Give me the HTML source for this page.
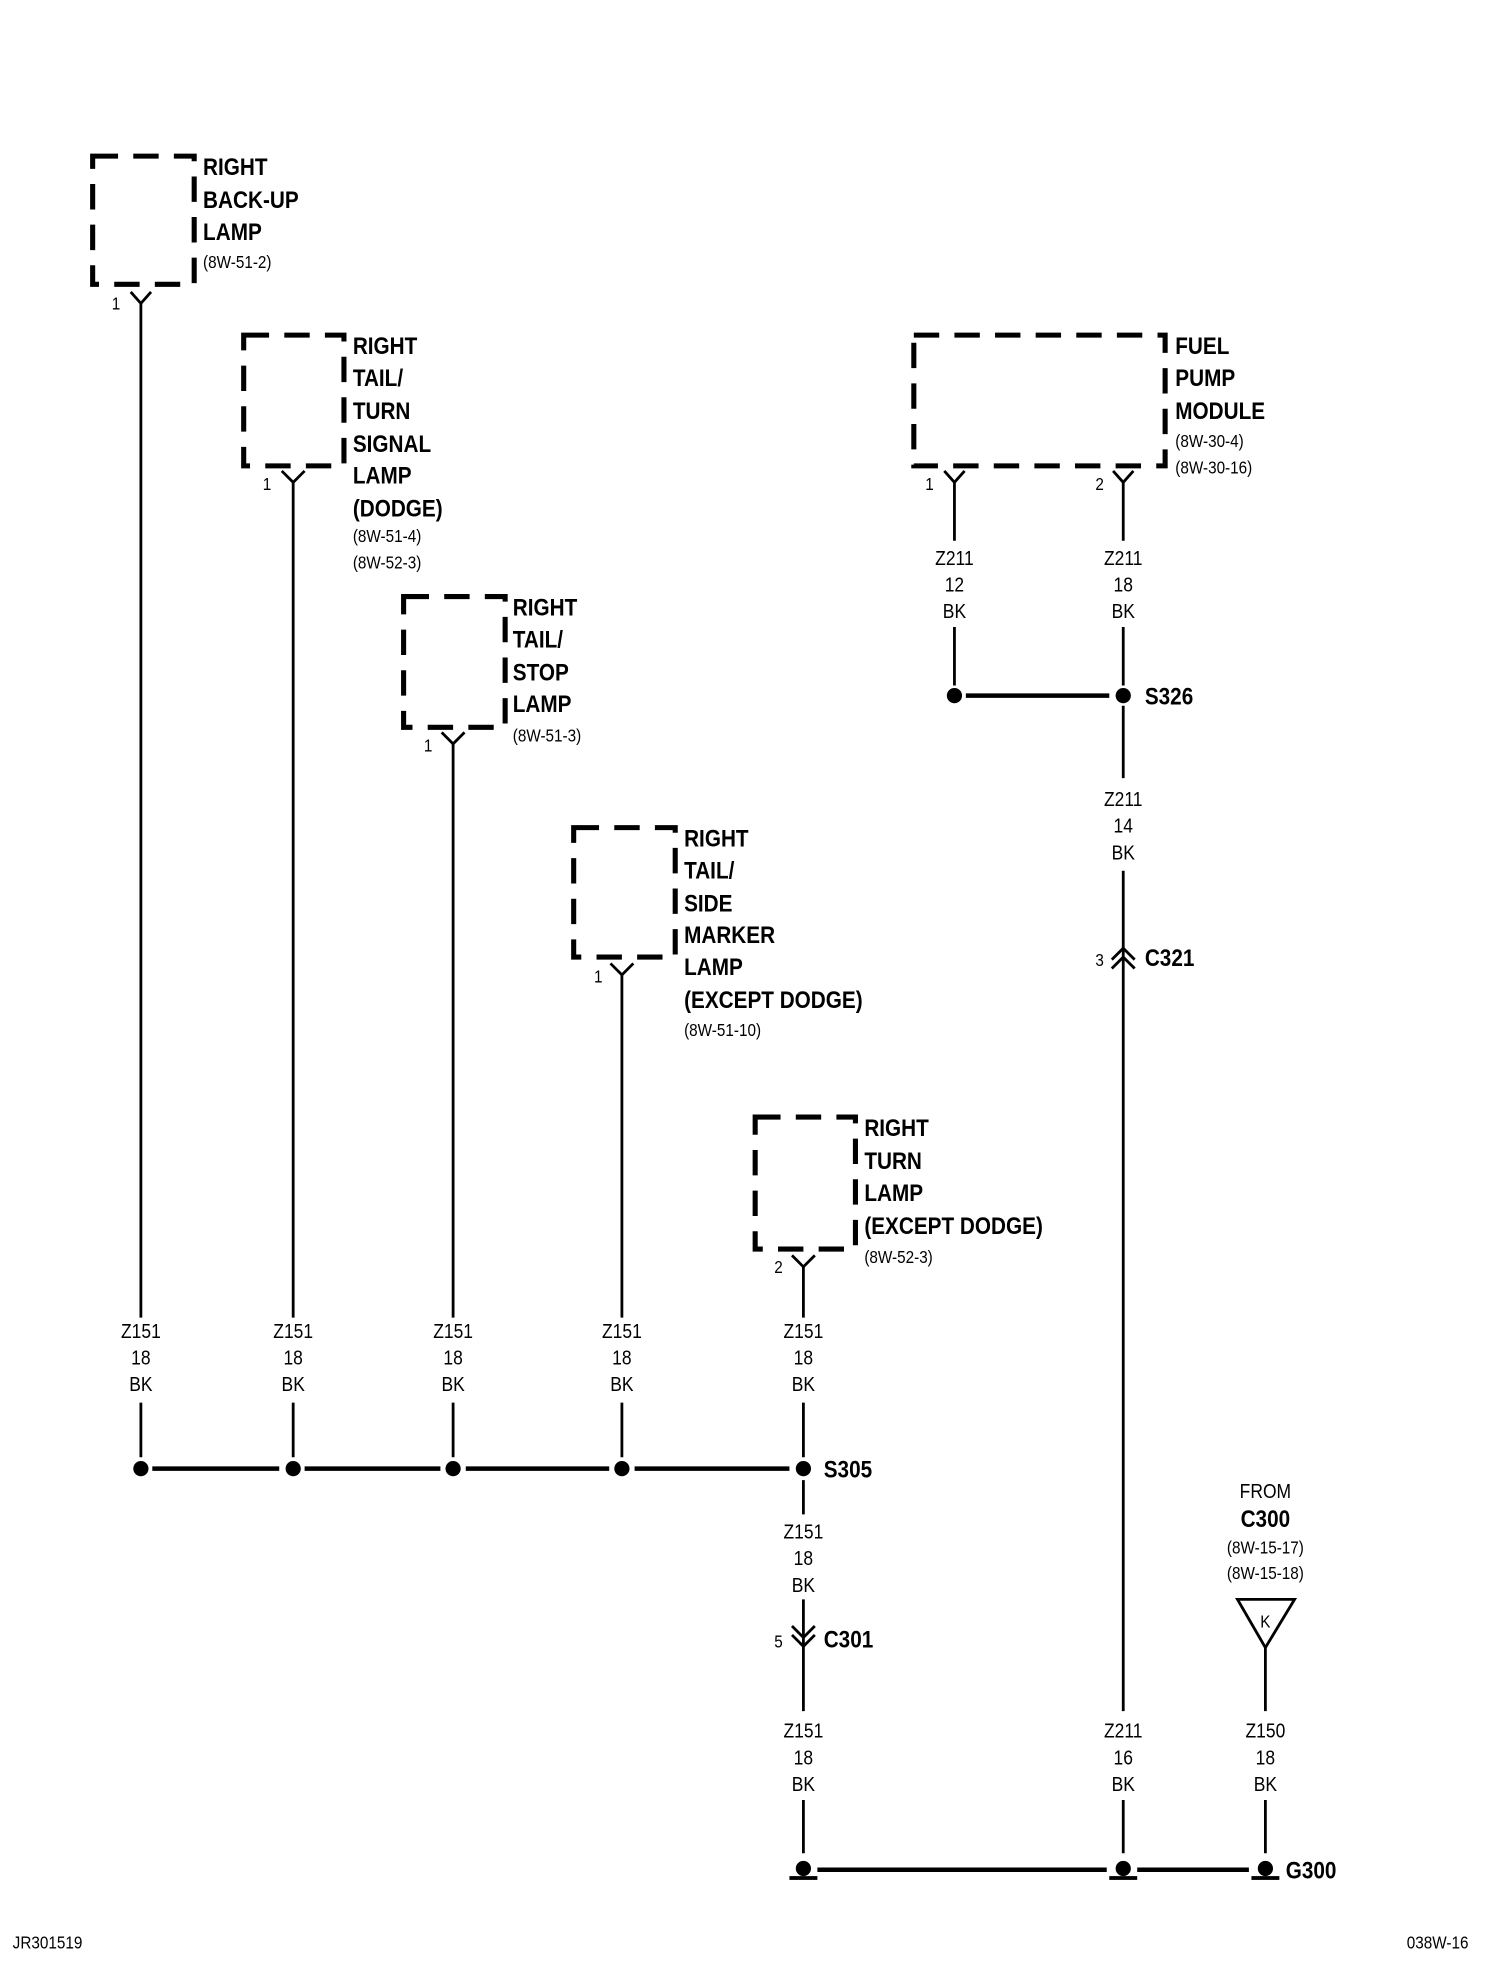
<!DOCTYPE html>
<html><head><meta charset="utf-8"><style>
html,body{margin:0;padding:0;background:#fff}
svg{display:block}
text{font-family:"Liberation Sans Narrow","Liberation Sans",Arial,sans-serif;fill:#000;transform-box:fill-box;transform-origin:left center;transform:scaleX(.86)}
.b{font-weight:bold;font-size:19px}
.s{font-size:14px}
.w text,.c{text-anchor:middle;transform-origin:center center}
.w{font-size:16px}
.e{transform-origin:right center}
</style></head><body>
<svg width="1504" height="1984" viewBox="0 2 1185 1563" preserveAspectRatio="none" xmlns="http://www.w3.org/2000/svg">
<g fill="none" stroke="#000" stroke-width="4" stroke-dasharray="20,12">
<rect x="73" y="125" width="80" height="101"/>
<rect x="192" y="266" width="79" height="103"/>
<rect x="318" y="472" width="80" height="103"/>
<rect x="452" y="654" width="80" height="102"/>
<rect x="595" y="882" width="79" height="104"/>
<rect x="720" y="266" width="198" height="103"/>
</g>
<g fill="none" stroke="#000" stroke-width="2.2">
<path d="M103,232 L111,241 L119,232 M222,373 L231,382 L240,373 M348,579 L357,588 L366,579 M481,761 L490,770 L499,761 M624,991 L633,1000 L642,991 M744,373 L752,382 L760,373 M877,373 L885,382 L893,373"/>
<path d="M111,241 V1040 M111,1107 V1150 M231,382 V1040 M231,1107 V1150 M357,588 V1040 M357,1107 V1150 M490,770 V1040 M490,1107 V1150 M633,1000 V1040 M633,1107 V1150"/>
<path d="M633,1168 V1195 M633,1262 V1300 M633,1300 V1350 M633,1420 V1462"/>
<path d="M752,382 V428 M752,496 V542 M885,382 V428 M885,496 V542 M885,558 V615 M885,688 V1350 M885,1420 V1462 M997,1300 V1350 M997,1420 V1462"/>
<path d="M624,1283 L633,1292 L642,1283 M624,1290 L633,1299 L642,1290"/>
<path d="M876,758 L885,749 L894,758 M876,765 L885,756 L894,765"/>
<path d="M975,1262 L1020,1262 L997,1300 Z"/>
</g>
<g stroke="#000" stroke-width="3.5">
<path d="M120,1159 H220 M240,1159 H347 M367,1159 H480 M500,1159 H622"/>
<path d="M761,550 H874"/>
<path d="M644,1475 H872 M896,1475 H984"/>
</g>
<g fill="#000">
<circle cx="111" cy="1159" r="6"/><circle cx="231" cy="1159" r="6"/><circle cx="357" cy="1159" r="6"/><circle cx="490" cy="1159" r="6"/><circle cx="633" cy="1159" r="6"/>
<circle cx="752" cy="550" r="6"/><circle cx="885" cy="550" r="6"/>
<circle cx="633" cy="1474" r="6"/><rect x="622" y="1480" width="22" height="3"/>
<circle cx="885" cy="1474" r="6"/><rect x="874" y="1480" width="22" height="3"/>
<circle cx="997" cy="1474" r="6"/><rect x="986" y="1480" width="22" height="3"/>
</g>
<text class="b" x="160" y="140">RIGHT</text><text class="b" x="160" y="166">BACK-UP</text><text class="b" x="160" y="191">LAMP</text><text class="s" x="160" y="213">(8W-51-2)</text>
<text class="b" x="278" y="281">RIGHT</text><text class="b" x="278" y="306">TAIL/</text><text class="b" x="278" y="332">TURN</text><text class="b" x="278" y="358">SIGNAL</text><text class="b" x="278" y="383">LAMP</text><text class="b" x="278" y="409">(DODGE)</text><text class="s" x="278" y="429">(8W-51-4)</text><text class="s" x="278" y="450">(8W-52-3)</text>
<text class="b" x="404" y="487">RIGHT</text><text class="b" x="404" y="512">TAIL/</text><text class="b" x="404" y="538">STOP</text><text class="b" x="404" y="563">LAMP</text><text class="s" x="404" y="586">(8W-51-3)</text>
<text class="b" x="539" y="669">RIGHT</text><text class="b" x="539" y="694">TAIL/</text><text class="b" x="539" y="720">SIDE</text><text class="b" x="539" y="745">MARKER</text><text class="b" x="539" y="770">LAMP</text><text class="b" x="539" y="796">(EXCEPT DODGE)</text><text class="s" x="539" y="818">(8W-51-10)</text>
<text class="b" x="681" y="897">RIGHT</text><text class="b" x="681" y="923">TURN</text><text class="b" x="681" y="948">LAMP</text><text class="b" x="681" y="974">(EXCEPT DODGE)</text><text class="s" x="681" y="997">(8W-52-3)</text>
<text class="b" x="926" y="281">FUEL</text><text class="b" x="926" y="306">PUMP</text><text class="b" x="926" y="332">MODULE</text><text class="s" x="926" y="354">(8W-30-4)</text><text class="s" x="926" y="375">(8W-30-16)</text>
<g class="s">
<text x="88" y="246">1</text><text x="207" y="388">1</text><text x="334" y="594">1</text><text x="468" y="776">1</text><text x="610" y="1005">2</text><text x="729" y="388">1</text><text x="863" y="388">2</text><text x="610" y="1300">5</text><text x="863" y="763">3</text>
</g>
<g class="w">
<text x="111" y="1056">Z151</text><text x="111" y="1077">18</text><text x="111" y="1098">BK</text>
<text x="231" y="1056">Z151</text><text x="231" y="1077">18</text><text x="231" y="1098">BK</text>
<text x="357" y="1056">Z151</text><text x="357" y="1077">18</text><text x="357" y="1098">BK</text>
<text x="490" y="1056">Z151</text><text x="490" y="1077">18</text><text x="490" y="1098">BK</text>
<text x="633" y="1056">Z151</text><text x="633" y="1077">18</text><text x="633" y="1098">BK</text>
<text x="633" y="1214">Z151</text><text x="633" y="1235">18</text><text x="633" y="1256">BK</text>
<text x="633" y="1371">Z151</text><text x="633" y="1392">18</text><text x="633" y="1413">BK</text>
<text x="752" y="447">Z211</text><text x="752" y="468">12</text><text x="752" y="489">BK</text>
<text x="885" y="447">Z211</text><text x="885" y="468">18</text><text x="885" y="489">BK</text>
<text x="885" y="637">Z211</text><text x="885" y="658">14</text><text x="885" y="679">BK</text>
<text x="885" y="1371">Z211</text><text x="885" y="1392">16</text><text x="885" y="1413">BK</text>
<text x="997" y="1371">Z150</text><text x="997" y="1392">18</text><text x="997" y="1413">BK</text>
<text x="997" y="1182">FROM</text><text x="997" y="1226" class="s">(8W-15-17)</text><text x="997" y="1246" class="s">(8W-15-18)</text>
<text x="997" y="1284" style="font-size:14px">K</text>
</g>
<text class="b c" x="997" y="1205">C300</text>
<text class="b" x="649" y="1166">S305</text>
<text class="b" x="649" y="1300">C301</text>
<text class="b" x="902" y="557">S326</text>
<text class="b" x="902" y="763">C321</text>
<text class="b" x="1013" y="1482">G300</text>
<text class="s" x="10" y="1537">JR301519</text>
<text class="s e" x="1157" y="1537" text-anchor="end">038W-16</text>
</svg>
</body></html>
